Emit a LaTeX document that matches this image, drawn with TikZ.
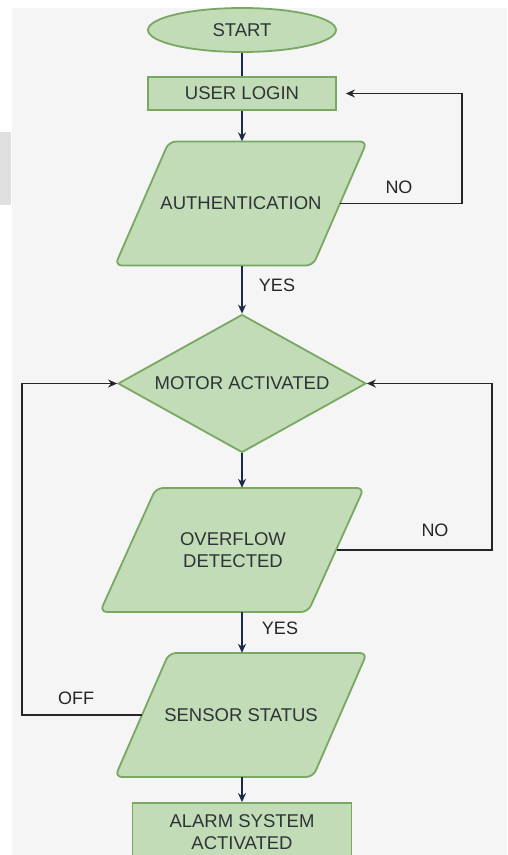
\documentclass[tikz,border=0pt]{standalone}
\usepackage{fontspec}
\setmainfont{Liberation Sans}
\usetikzlibrary{shapes.geometric,arrows.meta}

\definecolor{boxfill}{HTML}{C2DCB8}
\definecolor{boxline}{HTML}{78A862}
\definecolor{flowarrow}{HTML}{1C2B45}
\definecolor{pagegray}{HTML}{F5F5F5}
\definecolor{inktext}{HTML}{2E3436}

\tikzset{
  label text/.style={text=inktext, font=\fontsize{18.5}{22}\selectfont, align=center},
  block/.style={draw=boxline, fill=boxfill, line width=1.8pt, label text, inner sep=2pt},
  terminal/.style={block, ellipse, minimum width=188pt, minimum height=44pt},
  process/.style={block, rectangle, minimum width=188pt, minimum height=33pt},
  iobox/.style={draw=boxline, fill=boxfill, line width=1.8pt, rounded corners=7pt},
  iotext/.style={label text, inner sep=0pt, minimum width=198pt, minimum height=124pt},
  decision/.style={block, diamond, shape aspect=1.8,
    minimum width=248pt, minimum height=138pt},
  down/.style={-{Stealth[length=9pt,width=8pt]}, draw=flowarrow, line width=1.4pt},
  back/.style={-{Stealth[length=9pt,width=8pt]}, draw=black!85, line width=1.4pt},
  answer/.style={text=black!85, font=\fontsize{18}{21}\selectfont},
}

\begin{document}
\begin{tikzpicture}[x=1pt,y=-1pt]
    \useasboundingbox (0,0) rectangle (507,855);
    \fill[white] (0,0) rectangle (507,855);
    \fill[pagegray] (12,8) rectangle (507,855);
    \fill[black!12] (0,132) rectangle (11,205);
    \clip (0,0) rectangle (507,855);

    % parallelograms (slant 54pt over 124pt)
    \draw[iobox] (241,203.5) ++(-72,-62) -- ++(198,0) -- ++(-54,124) -- ++(-198,0) -- cycle;
    \draw[iobox] (233,550) ++(-77,-62) -- ++(208,0) -- ++(-56,124) -- ++(-208,0) -- cycle;
    \draw[iobox] (241,715) ++(-72,-62) -- ++(198,0) -- ++(-54,124) -- ++(-198,0) -- cycle;

    \node[terminal] (start) at (242,30) {START};
    \node[process] (login) at (242,93.5) {USER LOGIN};
    \node[iotext] (auth) at (241,203.5) {AUTHENTICATION};
    \node[decision] (motor) at (242,383.5) {MOTOR ACTIVATED};
    \node[iotext, minimum width=208pt] (flow) at (233,550) {OVERFLOW\\DETECTED};
    \node[iotext] (sensor) at (241,715) {SENSOR STATUS};
    \node[process, minimum width=219pt, minimum height=58pt] (alarm) at (242,832) {ALARM SYSTEM\\ACTIVATED};

    \draw[draw=flowarrow, line width=1.4pt] (start) -- (login);
    \draw[down] (login) -- (login |- auth.north);
    \draw[down] (login |- auth.south) -- (motor);
    \draw[down] (motor) -- (motor |- flow.north);
    \draw[down] (motor |- flow.south) -- (motor |- sensor.north);
    \draw[down] (motor |- sensor.south) -- (motor |- alarm.north);

    \draw[back] (auth.east) -| ([xshift=125pt]login.east) -- ([xshift=9pt]login.east);
    \draw[back] (flow.east) -| ([xshift=125pt]motor.east) -- (motor.east);
    \draw[back] (sensor.west) -| ([xshift=-95pt]motor.west) -- (motor.west);

    \node[answer] (authno) at (399,187) {NO};
    \node[answer] (authyes) at (277,285) {YES};
    \node[answer] (flowno) at (435,530) {NO};
    \node[answer] (flowyes) at (280,628) {YES};
    \node[answer] (sensoroff) at (76,698) {OFF};
\end{tikzpicture}
\end{document}
